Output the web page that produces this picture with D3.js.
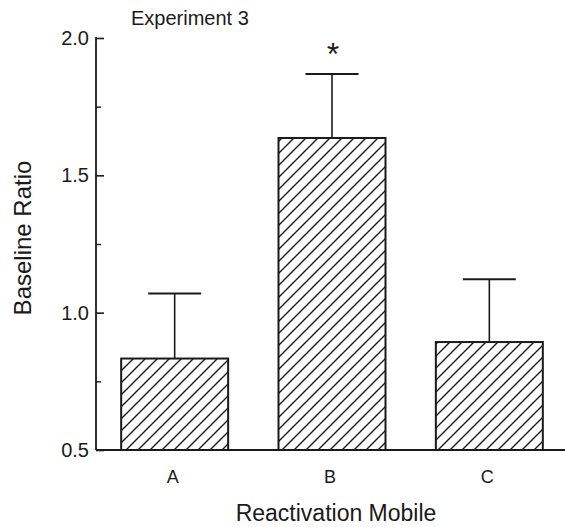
<!DOCTYPE html>
<html>
<head>
<meta charset="utf-8">
<script src="https://cdn.jsdelivr.net/npm/d3@7"></script>
<style>
  html, body { margin: 0; padding: 0; background: #fff; }
  text { font-family: "Liberation Sans", Arial, Helvetica, sans-serif; fill: #1a1a1a; }
</style>
</head>
<body>
<svg id="chart" width="565" height="527"></svg>
<script>
const categories = ["A", "B", "C"];
const means = [0.833, 1.636, 0.893];
const errorTops = [1.07, 1.869, 1.122];
const significant = [false, true, false];
const majorTicks = [0.5, 1.0, 1.5, 2.0];
const minorTicks = [0.75, 1.25, 1.75];
const title = "Experiment 3";
const xLabel = "Reactivation Mobile";
const yLabel = "Baseline Ratio";

const svg = d3.select("#chart");
const axisX = 96, baseY = 450, topY = 38, rightX = 568;

const y = d3.scaleLinear().domain([0.5, 2.0]).range([baseY, topY]);
const x = d3.scaleBand().domain(categories).range([axisX, rightX])
  .paddingInner(0.32).paddingOuter(0.16);

// hatch pattern
const defs = svg.append("defs");
const pat = defs.append("pattern").attr("id", "hatch")
  .attr("patternUnits", "userSpaceOnUse").attr("width", 12).attr("height", 12);
pat.append("path")
  .attr("d", "M0,12 L12,0 M-3,3 L3,-3 M9,15 L15,9")
  .attr("stroke", "#1a1a1a").attr("stroke-width", 1.4).attr("fill", "none");

// error bars (behind bars)
const cap = 53;
categories.forEach((c, i) => {
  const cx = x(c) + x.bandwidth() / 2;
  svg.append("line").attr("x1", cx).attr("x2", cx)
    .attr("y1", y(means[i])).attr("y2", y(errorTops[i]))
    .attr("stroke", "#1a1a1a").attr("stroke-width", 1.6);
  svg.append("line").attr("x1", cx - cap / 2).attr("x2", cx + cap / 2)
    .attr("y1", y(errorTops[i])).attr("y2", y(errorTops[i]))
    .attr("stroke", "#1a1a1a").attr("stroke-width", 2);
  if (significant[i]) {
    svg.append("text").attr("x", cx + 1).attr("y", y(errorTops[i]) - 9)
      .attr("text-anchor", "middle").attr("font-size", 32).text("*");
  }
});

// bars
svg.selectAll("rect.bar").data(categories).enter().append("rect")
  .attr("class", "bar")
  .attr("x", d => x(d))
  .attr("width", x.bandwidth())
  .attr("y", (d, i) => y(means[i]))
  .attr("height", (d, i) => baseY - y(means[i]))
  .attr("fill", "url(#hatch)")
  .attr("stroke", "#1a1a1a").attr("stroke-width", 2);

// y axis (ticks inward)
const yAxis = d3.axisRight(y).tickValues(majorTicks).tickSize(8).tickFormat(() => "");
const gy = svg.append("g").attr("transform", `translate(${axisX},0)`).call(yAxis);
gy.select(".domain").remove();
gy.selectAll(".tick line").attr("stroke", "#1a1a1a").attr("stroke-width", 1.6);
const yMinor = d3.axisRight(y).tickValues(minorTicks).tickSize(5).tickFormat(() => "");
const gym = svg.append("g").attr("transform", `translate(${axisX},0)`).call(yMinor);
gym.select(".domain").remove();
gym.selectAll(".tick line").attr("stroke", "#1a1a1a").attr("stroke-width", 1.4);

svg.append("line").attr("x1", axisX).attr("x2", axisX)
  .attr("y1", y(2.0) - 1).attr("y2", baseY)
  .attr("stroke", "#1a1a1a").attr("stroke-width", 1.8);

svg.selectAll("text.ytick").data(majorTicks).enter().append("text")
  .attr("class", "ytick")
  .attr("x", axisX - 7).attr("y", d => y(d) + 7)
  .attr("text-anchor", "end").attr("font-size", 20)
  .text(d => d.toFixed(1));

// x baseline
svg.append("line").attr("x1", axisX).attr("x2", 565)
  .attr("y1", baseY).attr("y2", baseY)
  .attr("stroke", "#1a1a1a").attr("stroke-width", 1.8);

// x labels
svg.selectAll("text.xtick").data(categories).enter().append("text")
  .attr("class", "xtick")
  .attr("x", d => x(d) + x.bandwidth() / 2 - 2).attr("y", 483)
  .attr("text-anchor", "middle").attr("font-size", 18)
  .text(d => d);

svg.append("text").attr("x", 336).attr("y", 521)
  .attr("text-anchor", "middle").attr("font-size", 23).text(xLabel);

svg.append("text")
  .attr("transform", "translate(31,238) rotate(-90)")
  .attr("text-anchor", "middle").attr("font-size", 24).text(yLabel);

svg.append("text").attr("x", 131).attr("y", 25)
  .attr("font-size", 20).text(title);
</script>
</body>
</html>
